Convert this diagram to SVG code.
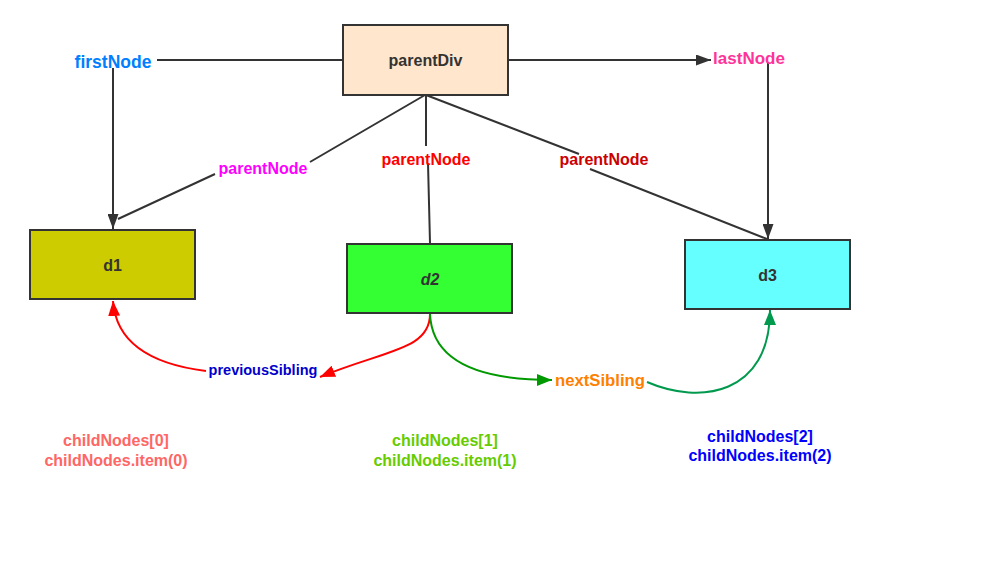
<svg xmlns="http://www.w3.org/2000/svg" width="984" height="565" viewBox="0 0 984 565">
<style>
text{font-family:"Liberation Sans",Arial,sans-serif;font-weight:bold;text-anchor:middle}
.box{stroke:#333;stroke-width:2}
.ln{fill:none;stroke:#333;stroke-width:2}
.nt{fill:#333;font-size:16px}
</style>
<defs>
<marker id="ab" markerUnits="userSpaceOnUse" markerWidth="16" markerHeight="11" refX="15" refY="5.5" orient="auto" viewBox="0 0 16 11"><path d="M0,0 L15,5.5 L0,11 z" fill="#333"/></marker>
<marker id="ar" markerUnits="userSpaceOnUse" markerWidth="16" markerHeight="12" refX="15" refY="6" orient="auto" viewBox="0 0 16 12"><path d="M0,0 L15,6 L0,12 z" fill="#FF0000"/></marker>
<marker id="ag" markerUnits="userSpaceOnUse" markerWidth="16" markerHeight="12" refX="15" refY="6" orient="auto" viewBox="0 0 16 12"><path d="M0,0 L15,6 L0,12 z" fill="#009900"/></marker>
<marker id="at" markerUnits="userSpaceOnUse" markerWidth="16" markerHeight="12" refX="15" refY="6" orient="auto" viewBox="0 0 16 12"><path d="M0,0 L15,6 L0,12 z" fill="#00994D"/></marker>
</defs>
<g id="connectors">
<path class="ln" d="M157,60 L343,60"/>
<path class="ln" d="M113,68 L113,229" marker-end="url(#ab)"/>
<path class="ln" d="M508,60 L711,60" marker-end="url(#ab)"/>
<path class="ln" d="M768,63 L768,239" marker-end="url(#ab)"/>
<path class="ln" d="M425,95 L310,162 M215,174 L118,219"/>
<path class="ln" d="M426,95 L426,146 M428,163 L430,243"/>
<path class="ln" d="M426,95 L579,154 M590,169 L767,239"/>
<path fill="none" stroke="#FF0000" stroke-width="2" d="M206,371 C150,364 116,342 113,301" marker-end="url(#ar)"/>
<path fill="none" stroke="#FF0000" stroke-width="2" d="M430,314 C430,350 385,350 320,377" marker-end="url(#ar)"/>
<path fill="none" stroke="#009900" stroke-width="2" d="M430,314 C432,362 480,380 552,380" marker-end="url(#ag)"/>
<path fill="none" stroke="#00994D" stroke-width="2" d="M647,382 C700,405 770,395 770,310" marker-end="url(#at)"/>
</g>
<g id="parentDiv"><rect class="box" x="343" y="25" width="165" height="70" fill="#FFE6CC"/><text class="nt" x="425.5" y="66">parentDiv</text></g>
<g id="d1"><rect class="box" x="30" y="230" width="165" height="69" fill="#CCCC00"/><text class="nt" x="112.5" y="271">d1</text></g>
<g id="d2"><rect class="box" x="347" y="244" width="165" height="69" fill="#33FF33"/><text class="nt" x="430" y="285" font-style="italic">d2</text></g>
<g id="d3"><rect class="box" x="685" y="240" width="165" height="69" fill="#66FFFF"/><text class="nt" x="767.5" y="281">d3</text></g>
<g id="labels">
<text x="113" y="68" font-size="17.5" fill="#007FFF">firstNode</text>
<text x="749" y="64" font-size="17" fill="#FF3399">lastNode</text>
<text x="263" y="174" font-size="16" fill="#FF00FF">parentNode</text>
<text x="426" y="165" font-size="16" fill="#FF0000">parentNode</text>
<text x="604" y="165" font-size="16" fill="#CC0000">parentNode</text>
<text x="263" y="375" font-size="14.5" fill="#0000CC">previousSibling</text>
<text x="600" y="386" font-size="16.7" fill="#FF8000">nextSibling</text>
<text x="116" y="446" font-size="16" fill="#FF6666">childNodes[0]</text>
<text x="116" y="466" font-size="16" fill="#FF6666">childNodes.item(0)</text>
<text x="445" y="446" font-size="16" fill="#66CC00">childNodes[1]</text>
<text x="445" y="466" font-size="16" fill="#66CC00">childNodes.item(1)</text>
<text x="760" y="442" font-size="16" fill="#0000FF">childNodes[2]</text>
<text x="760" y="461" font-size="16" fill="#0000FF">childNodes.item(2)</text>
</g>
</svg>
